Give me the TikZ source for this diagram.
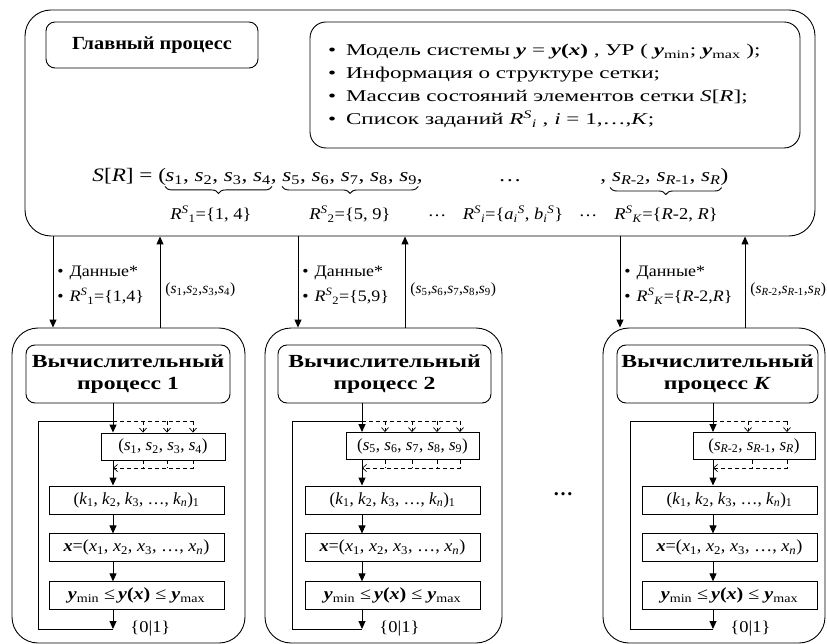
\documentclass[tikz,border=0pt]{standalone}
\usepackage{fontspec}
\setmainfont{Liberation Serif}
\usetikzlibrary{arrows}
\usetikzlibrary{positioning}
\usetikzlibrary{calc}
\usetikzlibrary{arrows.meta}
\usetikzlibrary{decorations.pathreplacing}

\newcommand{\svar}[1]{\textit{s}\textsubscript{#1}}
\newcommand{\bvar}[1]{\textbf{\textit{#1}}}
\newcommand{\RSet}[1]{\textit{R}\textsuperscript{\textit{S}}\textsubscript{#1}}
\newcommand{\kvec}{(\textit{k}\textsubscript{1}, \textit{k}\textsubscript{2}, \textit{k}\textsubscript{3}, …, \textit{k}\textsubscript{\textit{n}})\textsubscript{1}}
\newcommand{\xvec}{\addfontfeature{FakeStretch=1.07}\bvar{x}=(\textit{x}\textsubscript{1}, \textit{x}\textsubscript{2}, \textit{x}\textsubscript{3}, …, \textit{x}\textsubscript{\textit{n}})}
\newcommand{\ycond}{\addfontfeature{FakeStretch=1.18}\bvar{y}\textsubscript{min} ≤\,\bvar{y}\textbf{(}\bvar{x}\textbf{)} ≤ \bvar{y}\textsubscript{max}}

\begin{document}
\begin{tikzpicture}[->,>={Stealth[length=8pt,width=7pt,inset=0pt]},x=1pt,y=-1pt,
					line width=0.9pt,font=\fontsize{15}{18}\selectfont]
					\tikzstyle{bigbox}=[draw,rounded corners=26pt]
					\tikzstyle{titlebox}=[draw,rounded corners=9pt,align=center,font=\fontsize{18.5}{22}\selectfont\bfseries\addfontfeature{FakeStretch=1.28}]
					\tikzstyle{sbox}=[draw,minimum height=27,inner sep=1pt,font=\fontsize{17}{18}\selectfont]
					\tikzstyle{pbox}=[draw,minimum width=175,minimum height=28,inner sep=1pt,font=\fontsize{17}{18}\selectfont]
					\tikzstyle{dsh}=[dash pattern=on 4pt off 3pt,line width=0.7pt]
					\tikzstyle{tap}=[dsh,-{Straight Barb[length=4pt,width=7pt]}]
					\tikzstyle{formula}=[inner sep=0pt,font=\fontsize{19}{20}\selectfont\addfontfeature{FakeStretch=1.22}]
					\tikzstyle{sublabel}=[inner sep=0pt,font=\fontsize{16.5}{18}\selectfont\addfontfeature{FakeStretch=1.12}]
					\tikzstyle{side}=[inner sep=0pt,align=left,font=\fontsize{16}{25}\selectfont\addfontfeature{FakeStretch=1.12}]
					\tikzstyle{back}=[inner sep=0pt,font=\fontsize{15.5}{18}\selectfont]
					
					\useasboundingbox (0,0) rectangle (827,644);
					
					% main process
					\node[bigbox,minimum width=790,minimum height=226] (main) at (420,123) {};
					\node[draw,rounded corners=9pt,minimum width=212,minimum height=46,
						font=\fontsize{18.5}{22}\selectfont\bfseries\addfontfeature{FakeStretch=1.1}] (head) at (152,45) {Главный процесс};
					\node[draw,rounded corners=16pt,minimum width=490,minimum height=126] (info) at (555,85) {};
					\node[anchor=west,align=left,inner sep=0pt,font=\fontsize{16.5}{23}\selectfont\addfontfeature{FakeStretch=1.4}] (infotext) at ([xshift=18pt,yshift=-1pt]info.west)
						{\textbullet\hspace{10pt}Модель системы \bvar{y} = \bvar{y}\textbf{(}\bvar{x}\textbf{)} , УР ( \bvar{y}\textsubscript{min}; \bvar{y}\textsubscript{max} );\\
						\textbullet\hspace{10pt}Информация о структуре сетки;\\
						\textbullet\hspace{10pt}Массив состояний элементов сетки \textit{S}[\textit{R}];\\
						\textbullet\hspace{10pt}Список заданий \RSet{\textit{i}} , \textit{i} = 1,…,\textit{K};};
					
					\node[formula,anchor=base west] (lhs) at (92,182) {\textit{S}[\textit{R}] = (};
					\node[formula,anchor=base west] (grp1) at (165,182) {\svar{1}, \svar{2}, \svar{3}, \svar{4},};
					\node[formula,anchor=base west] (grp2) at (282,182) {\svar{5}, \svar{6}, \svar{7}, \svar{8}, \svar{9},};
					\node[formula,anchor=base] (gdots) at (510,182) {…};
					\node[formula,anchor=base west] (grpK) at (600,182) {, \svar{\textit{R}-2}, \svar{\textit{R}-1}, \svar{\textit{R}})};
					\draw[-,decorate,decoration={brace,mirror,amplitude=7pt}] ([yshift=-1pt]grp1.south west) -- ([xshift=-5pt,yshift=-1pt]grp1.south east);
					\draw[-,decorate,decoration={brace,mirror,amplitude=7pt}] ([yshift=-1pt]grp2.south west) -- ([xshift=-5pt,yshift=-1pt]grp2.south east);
					\draw[-,decorate,decoration={brace,mirror,amplitude=7pt}] ([xshift=10pt,yshift=-1pt]grpK.south west) -- ([xshift=-7pt,yshift=-1pt]grpK.south east);
					\node[sublabel] (r1) at (211,214) {\RSet{1}=\{1, 4\}};
					\node[sublabel] (r2) at (350,214) {\RSet{2}=\{5, 9\}};
					\node[sublabel] (rd1) at (437,216) {…};
					\node[sublabel] (ri) at (513,214) {\RSet{\textit{i}}=\{\textit{a}\textsubscript{\textit{i}}\textsuperscript{\textit{S}}, \textit{b}\textsubscript{\textit{i}}\textsuperscript{\textit{S}}\}};
					\node[sublabel] (rd2) at (588,216) {…};
					\node[sublabel] (rK) at (666,214) {\RSet{\textit{K}}=\{\textit{R}-2, \textit{R}\}};
					
					% process 1
					\node[bigbox,minimum width=233,minimum height=315] (proc1) at (128.5,485.5) {};
					\node[titlebox,minimum width=204,minimum height=58] (t1) at (128,374) {Вычислительный\\процесс 1};
					\coordinate (c1) at (113,421);
					\coordinate (l1) at (38,421);
					\coordinate (b1) at (193,468);
					\coordinate (e1) at (113,629);
					\node[sbox,minimum width=124] (s1) at (163,446.5) {(\svar{1}, \svar{2}, \svar{3}, \svar{4})};
					\node[pbox] (k1) at (136.5,500) {\kvec};
					\node[pbox,below=19pt of k1] (x1) {\xvec};
					\node[pbox,below=19pt of x1] (y1) {\ycond};
					\draw (c1 |- t1.south) -- (c1 |- s1.north);
					\draw[-,dsh] (c1) -- (c1 -| b1);
					\draw[tap] (143,0 |- c1) -- (143,0 |- s1.north);
					\draw[tap] (167,0 |- c1) -- (167,0 |- s1.north);
					\draw[tap] (b1 |- c1) -- (b1 |- s1.north);
					\draw[-,dsh] (143,0 |- s1.south) -- (143,0 |- b1) (167,0 |- s1.south) -- (167,0 |- b1);
					\draw[tap] (b1 |- s1.south) -- (b1) -- (c1 |- b1);
					\draw (c1 |- s1.south) -- (c1 |- k1.north);
					\draw (c1 |- k1.south) -- (c1 |- x1.north);
					\draw (c1 |- x1.south) -- (c1 |- y1.north);
					\draw (c1 |- y1.south) -- (e1);
					\draw[-] (e1) -| (l1) -- (c1);
					\node[sublabel,anchor=west] (o1) at ([xshift=17pt]e1) {\{0|1\}};
					\draw (53,0 |- main.south) -- (53,0 |- proc1.north);
					\draw (160,0 |- proc1.north) -- (160,0 |- main.south);
					\node[side,anchor=west] (d1) at (57,285) {\textbullet\hspace{6pt}Данные*\\\textbullet\hspace{6pt}\RSet{1}=\{1,4\}};
					\node[back,anchor=west] (u1) at (165,290) {(\svar{1},\svar{2},\svar{3},\svar{4})};
					
					% process 2
					\node[bigbox,minimum width=237,minimum height=315] (proc2) at (383.5,485.5) {};
					\node[titlebox,minimum width=213,minimum height=58] (t2) at (384.5,374) {Вычислительный\\процесс 2};
					\coordinate (c2) at (362,421);
					\coordinate (l2) at (292,421);
					\coordinate (b2) at (460,468);
					\coordinate (e2) at (362,629);
					\node[sbox,minimum width=133] (s2) at (412.5,446) {(\svar{5}, \svar{6}, \svar{7}, \svar{8}, \svar{9})};
					\node[pbox] (k2) at (392.5,500) {\kvec};
					\node[pbox,below=19pt of k2] (x2) {\xvec};
					\node[pbox,below=19pt of x2] (y2) {\ycond};
					\draw (c2 |- t2.south) -- (c2 |- s2.north);
					\draw[-,dsh] (c2) -- (c2 -| b2);
					\draw[tap] (385,0 |- c2) -- (385,0 |- s2.north);
					\draw[tap] (412,0 |- c2) -- (412,0 |- s2.north);
					\draw[tap] (437,0 |- c2) -- (437,0 |- s2.north);
					\draw[tap] (b2 |- c2) -- (b2 |- s2.north);
					\draw[-,dsh] (385,0 |- s2.south) -- (385,0 |- b2) (412,0 |- s2.south) -- (412,0 |- b2) (437,0 |- s2.south) -- (437,0 |- b2);
					\draw[tap] (b2 |- s2.south) -- (b2) -- (c2 |- b2);
					\draw (c2 |- s2.south) -- (c2 |- k2.north);
					\draw (c2 |- k2.south) -- (c2 |- x2.north);
					\draw (c2 |- x2.south) -- (c2 |- y2.north);
					\draw (c2 |- y2.south) -- (e2);
					\draw[-] (e2) -| (l2) -- (c2);
					\node[sublabel,anchor=west] (o2) at ([xshift=17pt]e2) {\{0|1\}};
					\draw (298,0 |- main.south) -- (298,0 |- proc2.north);
					\draw (405,0 |- proc2.north) -- (405,0 |- main.south);
					\node[side,anchor=west] (d2) at (302,285) {\textbullet\hspace{6pt}Данные*\\\textbullet\hspace{6pt}\RSet{2}=\{5,9\}};
					\node[back,anchor=west] (u2) at (410,290) {(\svar{5},\svar{6},\svar{7},\svar{8},\svar{9})};
					
					\node[font=\fontsize{20}{20}\selectfont\bfseries] (gap) at (563,494) {…};
					
					% process K
					\node[bigbox,minimum width=222,minimum height=315] (procK) at (714,485.5) {};
					\node[titlebox,minimum width=201,minimum height=58] (tK) at (717.5,374) {Вычислительный\\процесс \textit{K}};
					\coordinate (cK) at (713,421);
					\coordinate (lK) at (630,421);
					\coordinate (bK) at (787,468);
					\coordinate (eK) at (713,629);
					\node[sbox,minimum width=122] (sK) at (754,446) {(\svar{\textit{R}-2}, \svar{\textit{R}-1}, \svar{\textit{R}})};
					\node[pbox] (kK) at (729.5,500) {\kvec};
					\node[pbox,below=19pt of kK] (xK) {\xvec};
					\node[pbox,below=19pt of xK] (yK) {\ycond};
					\draw (cK |- tK.south) -- (cK |- sK.north);
					\draw[-,dsh] (cK) -- (cK -| bK);
					\draw[tap] (748,0 |- cK) -- (748,0 |- sK.north);
					\draw[tap] (bK |- cK) -- (bK |- sK.north);
					\draw[-,dsh] (752,0 |- sK.south) -- (752,0 |- bK);
					\draw[tap] (bK |- sK.south) -- (bK) -- (cK |- bK);
					\draw (cK |- sK.south) -- (cK |- kK.north);
					\draw (cK |- kK.south) -- (cK |- xK.north);
					\draw (cK |- xK.south) -- (cK |- yK.north);
					\draw (cK |- yK.south) -- (eK);
					\draw[-] (eK) -| (lK) -- (cK);
					\node[sublabel,anchor=west] (oK) at ([xshift=17pt]eK) {\{0|1\}};
					\draw (620,0 |- main.south) -- (620,0 |- procK.north);
					\draw (745,0 |- procK.north) -- (745,0 |- main.south);
					\node[side,anchor=west] (dK) at (624,285) {\textbullet\hspace{6pt}Данные*\\\textbullet\hspace{6pt}\RSet{\textit{K}}=\{\textit{R}-2,\textit{R}\}};
					\node[back,anchor=west] (uK) at (750,290) {(\svar{\textit{R}-2},\svar{\textit{R}-1},\svar{\textit{R}})};
					\end{tikzpicture}
\end{document}
